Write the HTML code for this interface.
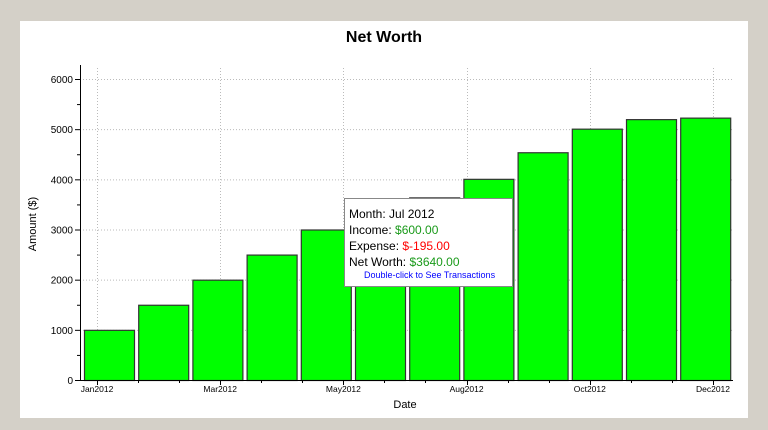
<!DOCTYPE html>
<html><head><meta charset="utf-8"><style>
html,body{margin:0;padding:0;background:#d4d0c8;width:768px;height:430px;overflow:hidden;font-family:"Liberation Sans",sans-serif}
</style></head><body>
<svg width="768" height="430" style="position:absolute;left:0;top:0">
<rect x="20" y="21" width="728" height="397" fill="#fff"/>
<text x="384" y="42" text-anchor="middle" font-size="16" font-weight="bold">Net Worth</text>
<g id="grid"></g>
<g id="bars"></g>
<g id="axes"></g>
<text x="36" y="224" transform="rotate(-90 36 224)" text-anchor="middle" font-size="11">Amount ($)</text>
<text x="405" y="408" text-anchor="middle" font-size="11">Date</text>
<g>
<rect x="344.5" y="198.5" width="168" height="88" fill="#fff" stroke="#888"/>
<text x="349" y="218" font-size="12">Month: Jul 2012</text>
<text x="349" y="234" font-size="12">Income: <tspan fill="#1a9a1a">$600.00</tspan></text>
<text x="349" y="250" font-size="12">Expense: <tspan fill="#ff0000">$-195.00</tspan></text>
<text x="349" y="266" font-size="12">Net Worth: <tspan fill="#1a9a1a">$3640.00</tspan></text>
<text x="364" y="278" font-size="9" fill="#0000ff">Double-click to See Transactions</text>
</g>
</svg>
<script>
const months=["Jan","Feb","Mar","Apr","May","Jun","Jul","Aug","Sep","Oct","Nov","Dec"];
const netWorth=[1000,1500,2000,2500,3000,3500,3640,4010,4540,5010,5200,5230];
const yTicks=[0,1000,2000,3000,4000,5000,6000];
const xTickLabels=["Jan2012","Mar2012","May2012","Aug2012","Oct2012","Dec2012"];
const NS="http://www.w3.org/2000/svg";
const x0=80,x1=733,y0=380,yTop=65;
const ys=v=>y0-v*(380-79)/6000;
const pitch=54.2,bx0=84,bw=50;
const xb=i=>bx0+i*pitch;
const grid=document.getElementById('grid'),bars=document.getElementById('bars'),axes=document.getElementById('axes');
function mk(p,tag,a){const e=document.createElementNS(NS,tag);for(const k in a)e.setAttribute(k,a[k]);p.appendChild(e);return e;}
yTicks.forEach(v=>{const y=ys(v)+0.5;
 if(v>0){const g=mk(grid,'line',{x1:x0,x2:x1,y1:y,y2:y,stroke:'#bbb','stroke-dasharray':'1,2'});
 
 }
 const t=mk(axes,'line',{x1:x0-5,x2:x0,y1:y,y2:y,stroke:'#000'});
 
 
 const l=mk(axes,'text',{x:x0-7,y:ys(v)+4,'text-anchor':'end','font-size':'10'});l.textContent=v;
 
 
 if(ys(v+500)>yTop){const m=mk(axes,'line',{x1:x0-3,x2:x0,y1:ys(v+500)+0.5,y2:ys(v+500)+0.5,stroke:'#000'});
 
 }
});
const lx=i=>97+i*123.2;
xTickLabels.forEach((s,i)=>{const x=Math.round(lx(i))+0.5;
 const g=mk(grid,'line',{x1:x,x2:x,y1:yTop+3,y2:y0,stroke:'#bbb','stroke-dasharray':'1,2'});
 
 
 const t=mk(axes,'line',{x1:x,x2:x,y1:y0,y2:y0+5,stroke:'#000'});
 
 
 const l=mk(axes,'text',{x:lx(i),y:y0+12,'text-anchor':'middle','font-size':'8.5'});l.textContent=s;
 
 
 for(let k=1;k<3;k++){const mx=Math.round(lx(i)+k*41)+0.5;if(mx<x1){const m=mk(axes,'line',{x1:mx,x2:mx,y1:y0,y2:y0+3,stroke:'#000'});
 
 }}
});
netWorth.forEach((v,i)=>{const r=mk(bars,'rect',{x:xb(i)+0.5,y:ys(v)+0.5,width:bw,height:y0-ys(v),fill:'#00ff00',stroke:'#333','stroke-width':1.2});
 
 });
const ya=mk(axes,'line',{x1:x0+0.5,x2:x0+0.5,y1:yTop,y2:y0+0.5,stroke:'#000'});


const xa=mk(axes,'line',{x1:x0,x2:x1,y1:y0+0.5,y2:y0+0.5,stroke:'#000'});


</script>
</body></html>
